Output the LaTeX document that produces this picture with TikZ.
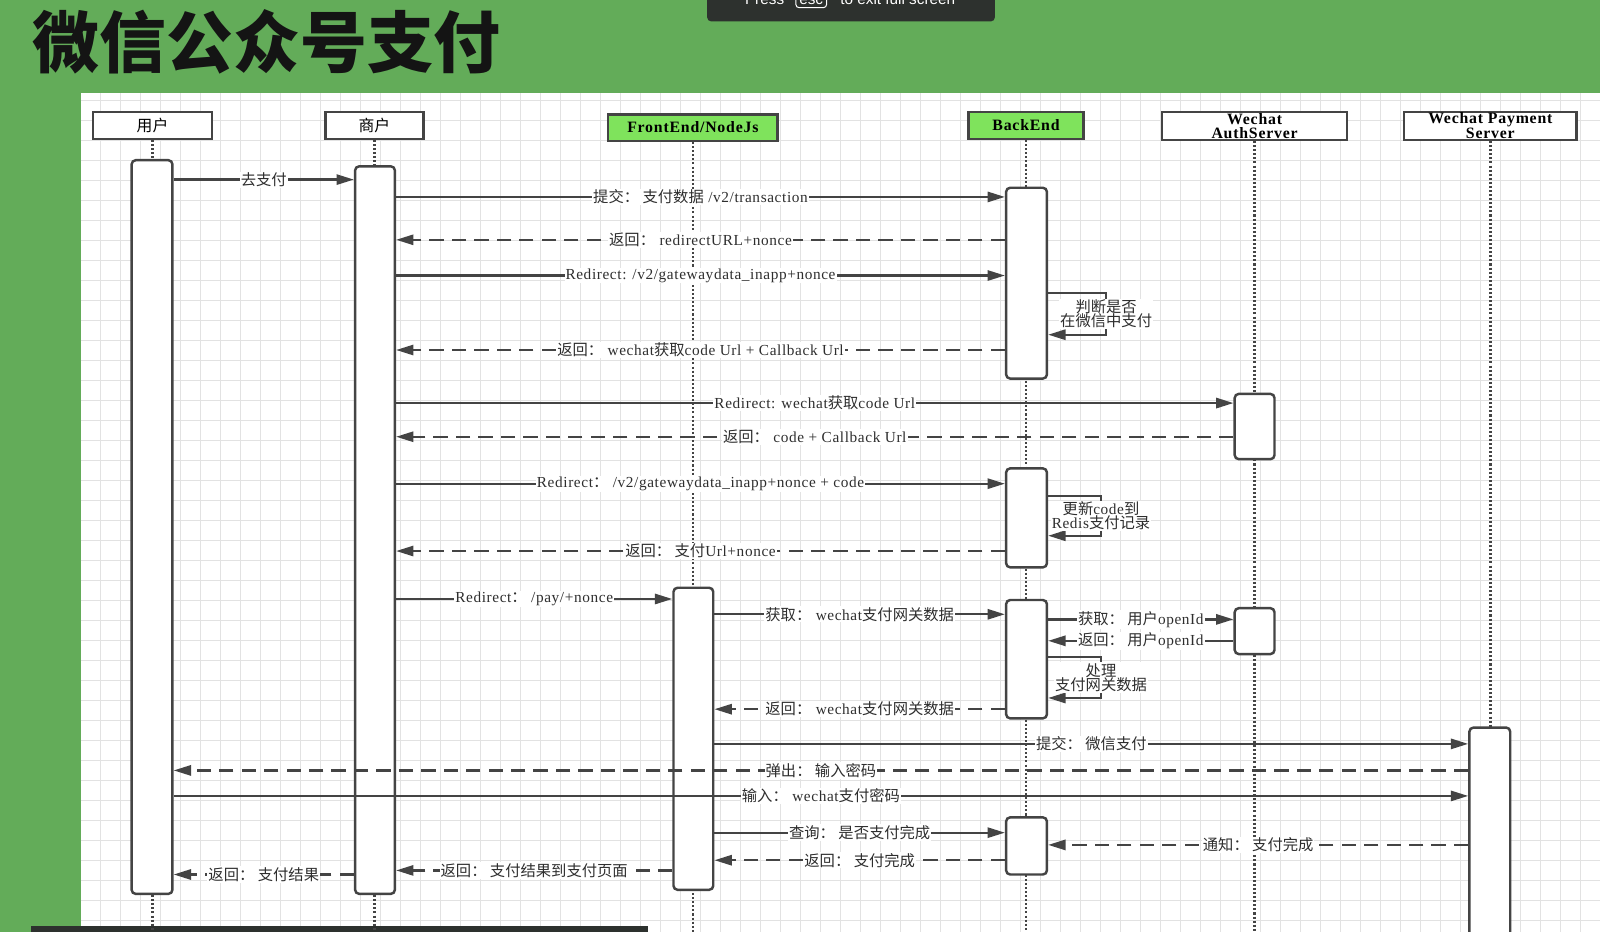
\documentclass[tikz,border=0pt]{standalone}
\usepackage{fontspec}
\setmainfont{Liberation Serif}
\newfontfamily\cjk{Noto Sans CJK SC}
\newfontfamily\lblfont{Liberation Serif}[LetterSpace=4]
\newfontfamily\hdrfont{Liberation Serif}[LetterSpace=5]
\newfontfamily\uifont{Liberation Sans}
\newcommand\zh[1]{{\cjk\mdseries #1}}
\usetikzlibrary{arrows.meta}

\definecolor{bggreen}{RGB}{99,172,89}
\definecolor{boxgreen}{RGB}{127,227,92}
\definecolor{linegray}{RGB}{68,68,68}
\definecolor{gridgray}{RGB}{226,226,226}
\definecolor{bardark}{RGB}{45,49,46}

\tikzset{
  actor/.style={draw=linegray, line width=2.4pt, fill=white, minimum height=26pt, inner sep=0pt,
    align=center, font=\fontsize{15.5}{13}\selectfont\hdrfont\bfseries},
  actorg/.style={actor, fill=boxgreen},
  bar/.style={draw=linegray, line width=2.4pt, fill=white, rounded corners=4pt, minimum width=40pt, inner sep=0pt},
  life/.style={draw=linegray, line width=2.4pt, dash pattern=on 2pt off 2pt},
  msg/.style={draw=linegray, line width=2.2pt, -{Triangle[length=17pt,width=10pt]}},
  ret/.style={msg, dash pattern=on 14pt off 8pt},
  lbl/.style={fill=white, inner sep=1pt, text=black!82, align=center,
    font=\fontsize{15}{14}\selectfont\lblfont},
}

\begin{document}
\begin{tikzpicture}[x=1pt, y=-1pt]
  \useasboundingbox (0,0) rectangle (1568,913);
  \clip (0,0) rectangle (1568,913);
  \fill[bggreen] (0,0) rectangle (1568,913);

  % title and panel
  \node[anchor=west, inner sep=0pt, text=black!92, font=\fontsize{65.5}{66}\selectfont\cjk\bfseries] (title) at (32,41) {微信公众号支付};
  \fill[white] (79,91) rectangle (1568,913);
  \draw[gridgray, line width=0.8pt, step=19.6pt] (79,913) grid (1568,91);

  % screen overlays
  \fill[bardark, rounded corners=4pt] (693,-10) rectangle (975,21);
  \node[anchor=base east, text=white, font=\fontsize{15}{15}\selectfont\uifont] (press) at (772,4) {Press};
  \node[anchor=base, draw=white!85, rounded corners=3pt, line width=1pt, text=white,
    font=\fontsize{15}{15}\selectfont\uifont] (escKey) at (795,4) {esc};
  \node[anchor=base west, text=white, font=\fontsize{15}{15}\selectfont\uifont] (exitText) at (820,4) {to exit full screen};
  \fill[bardark] (30,907) rectangle (635,913);

  % participants
  \node[actor, minimum width=117pt] (user) at (149.5,123) {\zh{用户}};
  \node[actor, minimum width=96pt] (merchant) at (367,123) {\zh{商户}};
  \node[actorg, minimum width=166pt] (front) at (679,125) {FrontEnd/NodeJs};
  \node[actorg, minimum width=113pt] (back) at (1005.5,123) {BackEnd};
  \node[actor, minimum width=181pt, minimum height=27pt] (auth) at (1229.5,123.5) {Wechat\\AuthServer};
  \node[actor, minimum width=169pt, minimum height=27pt] (pay) at (1460.5,123.5) {Wechat Payment\\Server};

  \coordinate (bottom) at (0,913);
  \draw[life] (user.south) -- (user.south |- bottom);
  \draw[life] (merchant.south) -- (merchant.south |- bottom);
  \draw[life] (front.south) -- (front.south |- bottom);
  \draw[life] (back.south) -- (back.south |- bottom);
  \draw[life] (auth.south) -- (auth.south |- bottom);
  \draw[life] (pay.south) -- (pay.south |- bottom);

  % activations
  \node[bar, minimum height=719pt] (userBar) at (149,516.5) {};
  \node[bar, minimum height=713pt, minimum width=39pt] (merBar) at (367.5,519.5) {};
  \node[bar, minimum height=296pt, minimum width=39pt] (frontBar) at (679.5,724) {};
  \node[bar, minimum height=187pt] (backA) at (1006,277.5) {};
  \node[bar, minimum height=97pt] (backB) at (1006,507.5) {};
  \node[bar, minimum height=116pt] (backC) at (1006,646) {};
  \node[bar, minimum height=56pt] (backD) at (1006,829) {};
  \node[bar, minimum height=64pt, minimum width=39pt] (authA) at (1229.5,418) {};
  \node[bar, minimum height=45pt, minimum width=39pt] (authB) at (1229.5,618.5) {};
  \node[bar, minimum height=240pt] (payBar) at (1460,833) {};

  % messages
  \draw[msg] (userBar.east |- 0,176) -- node[lbl]{\zh{去支付}} (merBar.west |- 0,176);
  \draw[msg] (merBar.east |- 0,193) -- node[lbl]{\zh{提交： 支付数据} /v2/transaction} (backA.west |- 0,193);
  \draw[ret] (backA.west |- 0,235) -- node[lbl]{\zh{返回：} redirectURL+nonce} (merBar.east |- 0,235);
  \draw[msg] (merBar.east |- 0,270) -- node[lbl]{Redirect: /v2/gatewaydata\_inapp+nonce} (backA.west |- 0,270);
  \draw[msg] (backA.east |- 0,287) -- (1084,287) -- node[lbl]{\zh{判断是否}\\\zh{在微信中支付}} (1084,328) -- (backA.east |- 0,328);
  \draw[ret] (backA.west |- 0,343) -- node[lbl]{\zh{返回：} wechat\zh{获取}code Url + Callback Url} (merBar.east |- 0,343);
  \draw[msg] (merBar.east |- 0,395) -- node[lbl]{Redirect: wechat\zh{获取}code Url} (authA.west |- 0,395);
  \draw[ret] (authA.west |- 0,428) -- node[lbl]{\zh{返回：} code + Callback Url} (merBar.east |- 0,428);
  \draw[msg] (merBar.east |- 0,474) -- node[lbl]{Redirect\zh{：} /v2/gatewaydata\_inapp+nonce + code} (backB.west |- 0,474);
  \draw[msg] (backB.east |- 0,486) -- (1079,486) -- node[lbl]{\zh{更新}code\zh{到}\\Redis\zh{支付记录}} (1079,525) -- (backB.east |- 0,525);
  \draw[ret] (backB.west |- 0,540) -- node[lbl]{\zh{返回： 支付}Url+nonce} (merBar.east |- 0,540);
  \draw[msg] (merBar.east |- 0,587) -- node[lbl]{Redirect\zh{：} /pay/+nonce} (frontBar.west |- 0,587);
  \draw[msg] (frontBar.east |- 0,602) -- node[lbl]{\zh{获取：} wechat\zh{支付网关数据}} (backC.west |- 0,602);
  \draw[msg] (backC.east |- 0,607) -- node[lbl]{\zh{获取： 用户}openId} (authB.west |- 0,607);
  \draw[msg] (authB.west |- 0,628) -- node[lbl]{\zh{返回： 用户}openId} (backC.east |- 0,628);
  \draw[msg] (backC.east |- 0,644) -- (1079,644) -- node[lbl]{\zh{处理}\\\zh{支付网关数据}} (1079,684) -- (backC.east |- 0,684);
  \draw[ret] (backC.west |- 0,695) -- node[lbl]{\zh{返回：} wechat\zh{支付网关数据}} (frontBar.east |- 0,695);
  \draw[msg] (frontBar.east |- 0,729) -- node[lbl]{\zh{提交： 微信支付}} (payBar.west |- 0,729);
  \draw[ret] (payBar.west |- 0,755) -- node[lbl]{\zh{弹出： 输入密码}} (userBar.east |- 0,755);
  \draw[msg] (userBar.east |- 0,780) -- node[lbl]{\zh{输入：} wechat\zh{支付密码}} (payBar.west |- 0,780);
  \draw[msg] (frontBar.east |- 0,816) -- node[lbl]{\zh{查询： 是否支付完成}} (backD.west |- 0,816);
  \draw[ret] (payBar.west |- 0,828) -- node[lbl]{\zh{通知： 支付完成}} (backD.east |- 0,828);
  \draw[ret] (backD.west |- 0,843) -- node[lbl]{\zh{返回： 支付完成}} (frontBar.east |- 0,843);
  \draw[ret] (frontBar.west |- 0,853) -- node[lbl]{\zh{返回： 支付结果到支付页面}} (merBar.east |- 0,853);
  \draw[ret] (merBar.west |- 0,857) -- node[lbl]{\zh{返回： 支付结果}} (userBar.east |- 0,857);
\end{tikzpicture}
\end{document}
